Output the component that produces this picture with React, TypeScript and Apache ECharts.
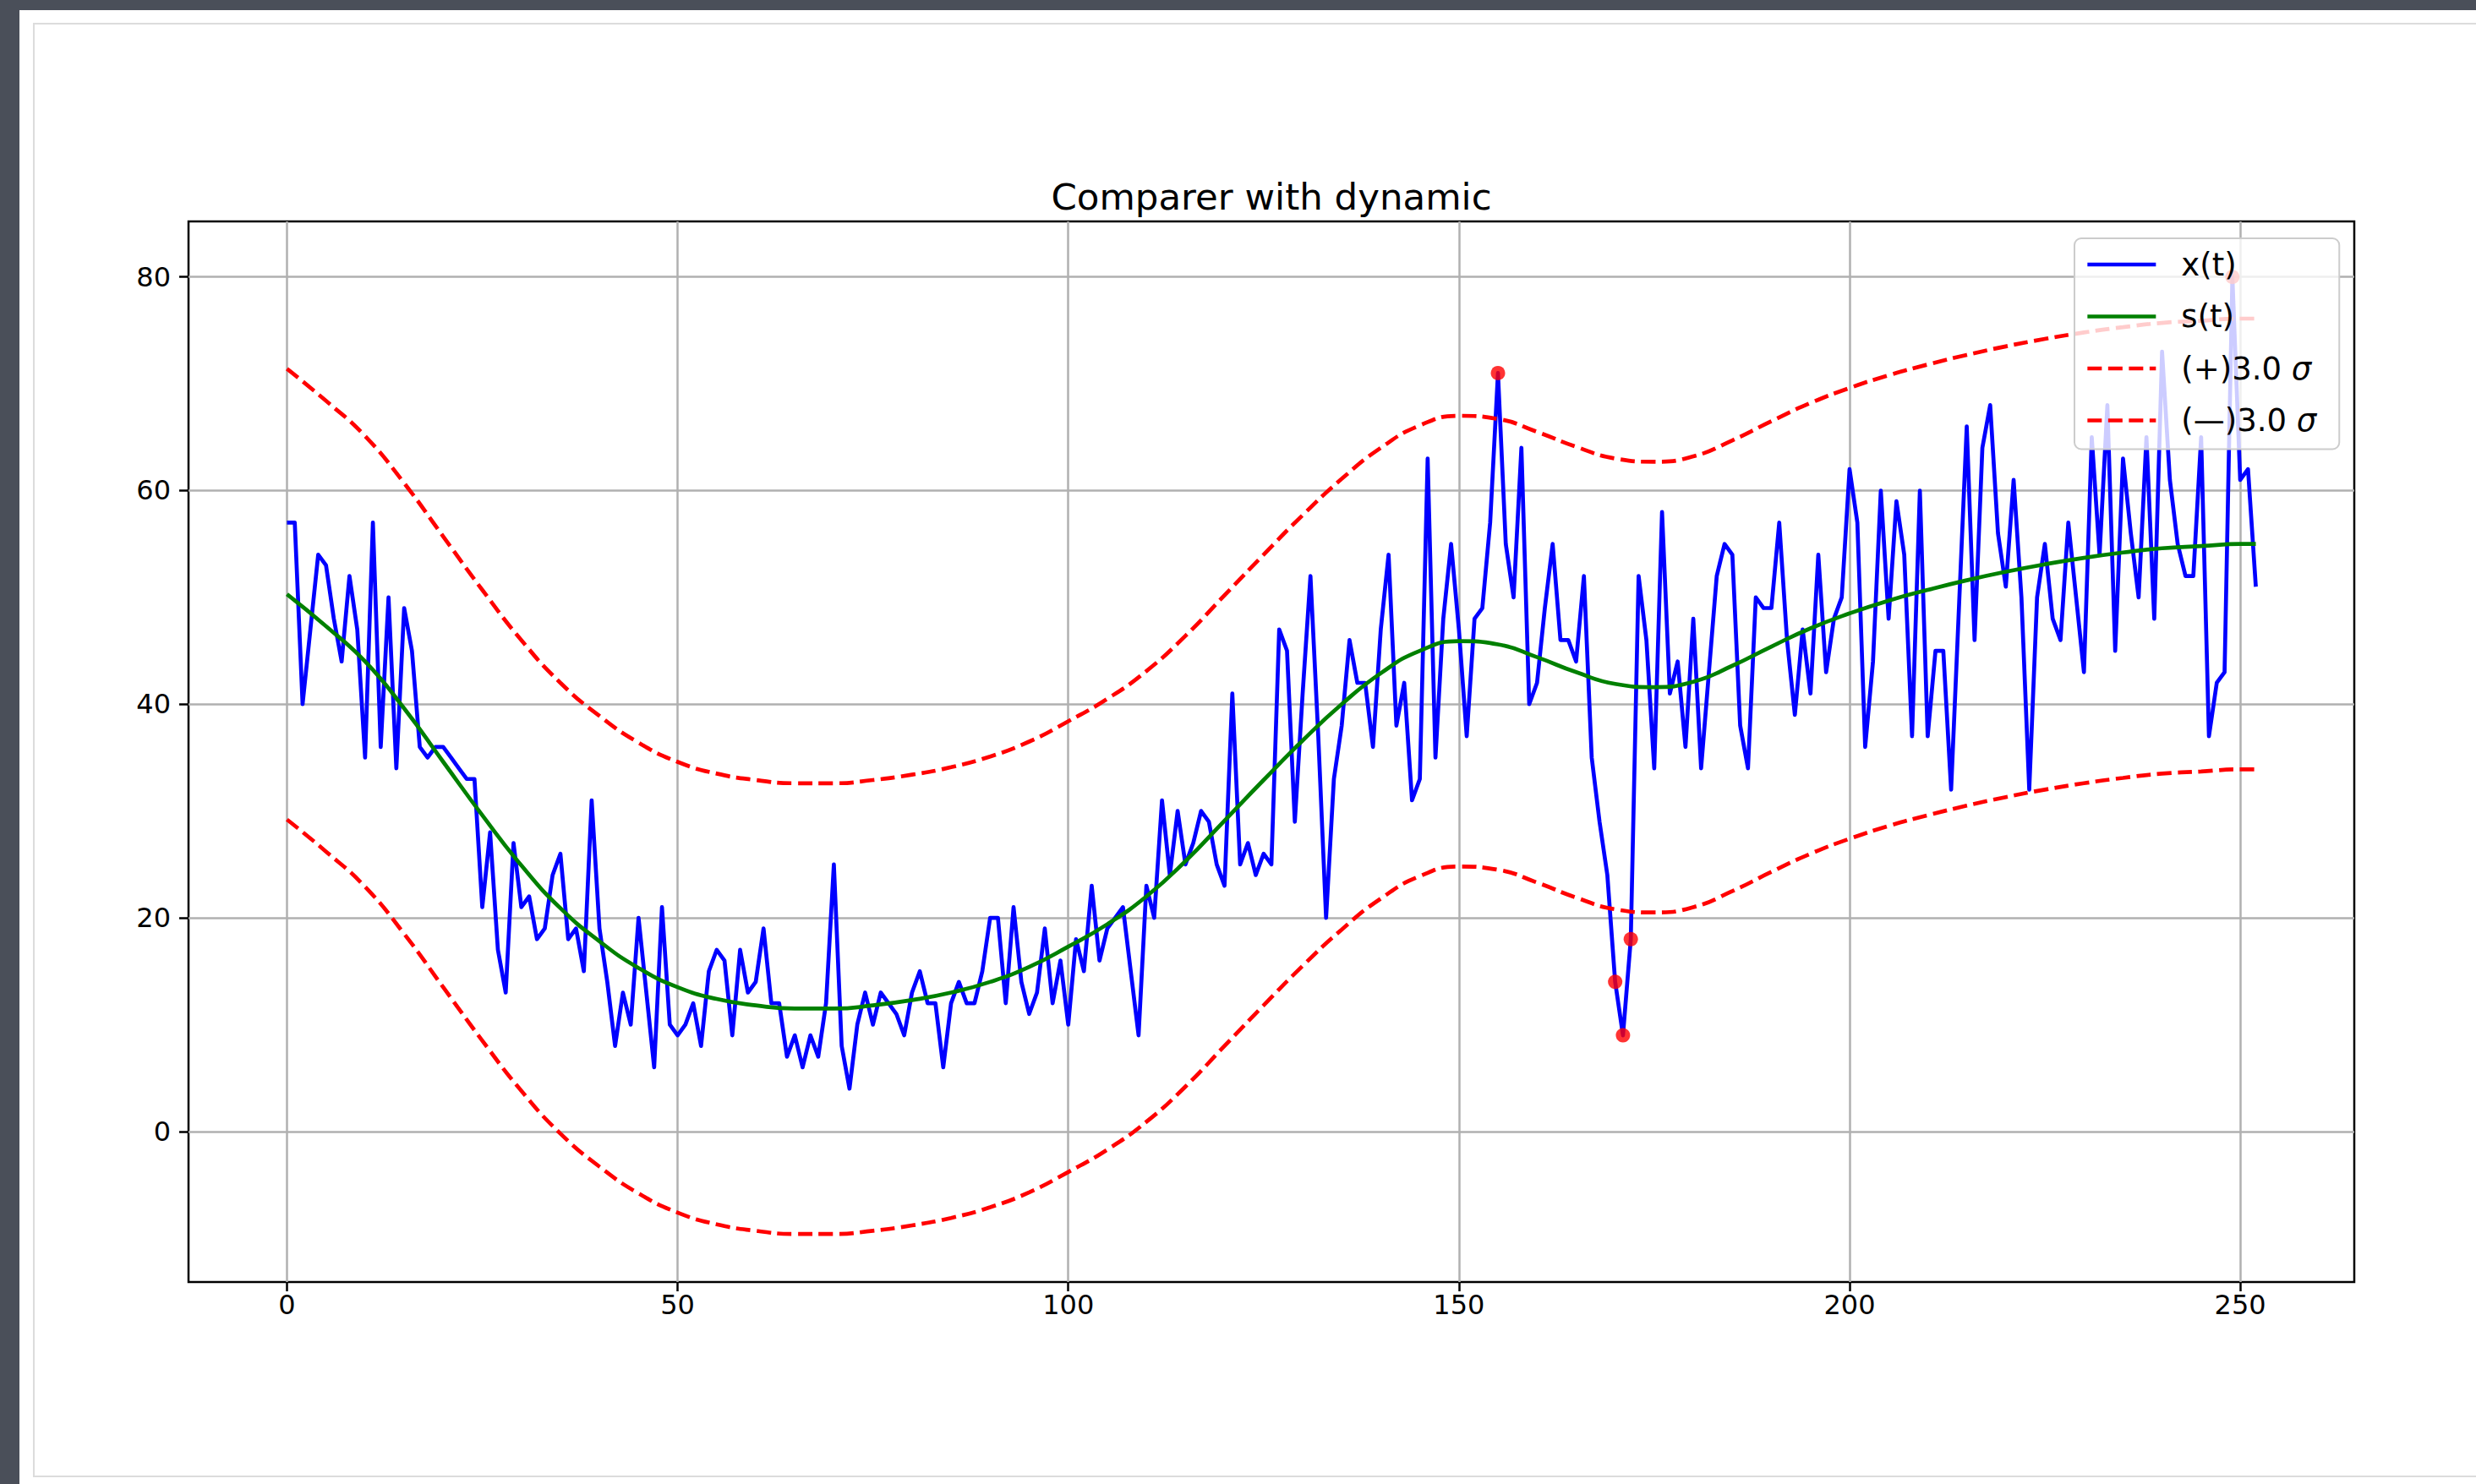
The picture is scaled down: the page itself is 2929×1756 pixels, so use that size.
import React, { useEffect, useRef } from 'react';
import * as echarts from 'echarts';

const FONT = '"DejaVu Sans", sans-serif';

// x(t) observed values, t = 0..252
const X_VALUES = [
  57, 57, 40, 47, 54, 53, 48, 44, 52, 47,
  35, 57, 36, 50, 34, 49, 45, 36, 35, 36,
  36, 35, 34, 33, 33, 21, 28, 17, 13, 27,
  21, 22, 18, 19, 24, 26, 18, 19, 15, 31,
  19, 14, 8, 13, 10, 20, 13, 6, 21, 10,
  9, 10, 12, 8, 15, 17, 16, 9, 17, 13,
  14, 19, 12, 12, 7, 9, 6, 9, 7, 12,
  25, 8, 4, 10, 13, 10, 13, 12, 11, 9,
  13, 15, 12, 12, 6, 12, 14, 12, 12, 15,
  20, 20, 12, 21, 14, 11, 13, 19, 12, 16,
  10, 18, 15, 23, 16, 19, 20, 21, 15, 9,
  23, 20, 31, 24, 30, 25, 27, 30, 29, 25,
  23, 41, 25, 27, 24, 26, 25, 47, 45, 29,
  41, 52, 37, 20, 33, 38, 46, 42, 42, 36,
  47, 54, 38, 42, 31, 33, 63, 35, 48, 55,
  47, 37, 48, 49, 57, 71, 55, 50, 64, 40,
  42, 49, 55, 46, 46, 44, 52, 35, 29, 24,
  14, 9, 18, 52, 46, 34, 58, 41, 44, 36,
  48, 34, 43, 52, 55, 54, 38, 34, 50, 49,
  49, 57, 46, 39, 47, 41, 54, 43, 48, 50,
  62, 57, 36, 44, 60, 48, 59, 54, 37, 60,
  37, 45, 45, 32, 49, 66, 46, 64, 68, 56,
  51, 61, 50, 32, 50, 55, 48, 46, 57, 50,
  43, 65, 54, 68, 45, 63, 56, 50, 65, 48,
  73, 61, 55, 52, 52, 65, 37, 42, 43, 80,
  61, 62, 51,
];

// sample positions for the smooth curves
const S_T = [
  0, 5, 10, 15, 20, 25, 30, 35, 40, 45,
  50, 55, 60, 65, 70, 75, 80, 85, 90, 95,
  100, 105, 110, 115, 120, 125, 130, 135, 140, 145,
  150, 155, 160, 165, 170, 175, 180, 185, 190, 195,
  200, 205, 210, 215, 220, 225, 230, 235, 240, 245,
  250, 252,
];

// s(t) smoothed values
const S_VALUES = [
  50.3, 47.3, 44.0, 39.6, 34.6, 29.6, 24.9, 20.9, 17.8, 15.3,
  13.5, 12.4, 11.8, 11.5, 11.5, 11.8, 12.3, 13.0, 14.0, 15.4,
  17.3, 19.4, 22.0, 25.3, 29.1, 32.9, 36.6, 40.0, 42.9, 45.0,
  45.9, 45.6, 44.4, 43.0, 41.9, 41.6, 42.1, 43.6, 45.4, 47.1,
  48.5, 49.7, 50.7, 51.6, 52.4, 53.1, 53.7, 54.2, 54.6, 54.8,
  55.0, 55.0,
];

// (+)3.0 sigma band
const UPPER_VALUES = [
  71.4, 68.4, 65.1, 60.7, 55.7, 50.7, 46.0, 42.0, 38.9, 36.4,
  34.6, 33.5, 32.9, 32.6, 32.6, 32.9, 33.4, 34.1, 35.1, 36.5,
  38.4, 40.5, 43.1, 46.4, 50.2, 54.0, 57.7, 61.1, 64.0, 66.1,
  67.0, 66.7, 65.5, 64.1, 63.0, 62.7, 63.2, 64.7, 66.5, 68.2,
  69.6, 70.8, 71.8, 72.7, 73.5, 74.2, 74.8, 75.3, 75.7, 75.9,
  76.1, 76.1,
];

// (—)3.0 sigma band
const LOWER_VALUES = [
  29.2, 26.2, 22.9, 18.5, 13.5, 8.5, 3.8, -0.2, -3.3, -5.8,
  -7.6, -8.7, -9.3, -9.6, -9.6, -9.3, -8.8, -8.1, -7.1, -5.7,
  -3.8, -1.7, 0.9, 4.2, 8.0, 11.8, 15.5, 18.9, 21.8, 23.9,
  24.8, 24.5, 23.3, 21.9, 20.8, 20.5, 21.0, 22.5, 24.3, 26.0,
  27.4, 28.6, 29.6, 30.5, 31.3, 32.0, 32.6, 33.1, 33.5, 33.7,
  33.9, 33.9,
];

// points flagged outside the band
const ANOMALY_T = [155, 170, 171, 172, 249];

const X_TICKS = [0, 50, 100, 150, 200, 250];
const Y_TICKS = [0, 20, 40, 60, 80];

const SERIES_NAMES = ['x(t)', 's(t)', '(+)3.0 σ', '(—)3.0 σ'];
const TITLE = 'Comparer with dynamic';

export default function App() {
  const ref = useRef<HTMLDivElement>(null);

  useEffect(() => {
    if (!ref.current) return;
    const chart = echarts.init(ref.current, undefined, { renderer: 'svg' });

    const xData = X_VALUES.map((v, i) => [i, v]);
    const sData = S_T.map((t, k) => [t, S_VALUES[k]]);
    const upData = S_T.map((t, k) => [t, UPPER_VALUES[k]]);
    const loData = S_T.map((t, k) => [t, LOWER_VALUES[k]]);
    const anData = ANOMALY_T.map((t) => [t, X_VALUES[t]]);

    const dash = [17, 7.5];

    const option: any = {
      animation: false,
      backgroundColor: 'transparent',
      textStyle: { fontFamily: FONT },
      grid: {
        left: 223,
        right: 144,
        top: 262,
        bottom: 239,
        show: true,
        borderColor: '#000000',
        borderWidth: 2.5,
        backgroundColor: 'transparent',
        containLabel: false,
        outerBoundsMode: 'none',
      },
      xAxis: {
        type: 'value',
        min: -12.6,
        max: 264.6,
        axisLine: { show: false, onZero: false },
        axisTick: {
          show: true,
          length: 11,
          lineStyle: { color: '#000000', width: 2.5 },
          customValues: X_TICKS,
        },
        axisLabel: {
          customValues: X_TICKS,
          fontSize: 32,
          color: '#000000',
          margin: 11,
          fontFamily: FONT,
        },
        splitLine: { show: false },
      },
      yAxis: {
        type: 'value',
        min: -14.1,
        max: 85.2,
        axisLine: { show: false, onZero: false },
        axisTick: {
          show: true,
          length: 11,
          lineStyle: { color: '#000000', width: 2.5 },
          customValues: Y_TICKS,
        },
        axisLabel: {
          customValues: Y_TICKS,
          fontSize: 32,
          color: '#000000',
          margin: 21,
          fontFamily: FONT,
        },
        splitLine: { show: false },
      },
      legend: {
        data: SERIES_NAMES,
        orient: 'vertical',
        left: 2454,
        top: 282,
        padding: [11, 27, 14, 13],
        itemWidth: 81,
        itemHeight: 14,
        itemGap: 21.5,
        backgroundColor: 'rgba(255,255,255,0.8)',
        borderColor: '#cccccc',
        borderWidth: 2,
        borderRadius: 8,
        selectedMode: false,
        itemStyle: { opacity: 0 },
        lineStyle: { width: 4.7 },
        formatter: (name: string) => name.replace('σ', '{i|σ}'),
        textStyle: {
          fontSize: 37,
          color: '#000000',
          fontFamily: FONT,
          lineHeight: 40,
          padding: [0, 0, 0, 25],
          rich: {
            i: { fontStyle: 'italic', fontSize: 37, fontFamily: FONT, lineHeight: 40, color: '#000000' },
          },
        },
      },
      graphic: [
        {
          type: 'text',
          x: 1504,
          y: 233,
          silent: true,
          style: {
            text: TITLE,
            fontSize: 43.5,
            fontFamily: FONT,
            fill: '#000000',
            align: 'center',
            verticalAlign: 'middle',
          },
        },
      ],
      series: [
        {
          type: 'line',
          name: SERIES_NAMES[0],
          data: xData,
          symbol: 'none',
          showSymbol: false,
          z: 2,
          lineStyle: { color: '#0000ff', width: 4.7, join: 'round' },
          itemStyle: { color: '#0000ff' },
          emphasis: { disabled: true },
          markLine: {
            silent: true,
            z: 1,
            symbol: ['none', 'none'],
            label: { show: false },
            emphasis: { disabled: true },
            lineStyle: { color: '#b0b0b0', width: 2.5, type: 'solid' },
            data: [
              ...X_TICKS.map((v) => ({ xAxis: v })),
              ...Y_TICKS.map((v) => ({ yAxis: v })),
            ],
          },
        },
        {
          type: 'line',
          name: SERIES_NAMES[1],
          data: sData,
          smooth: true,
          symbol: 'none',
          showSymbol: false,
          z: 2,
          lineStyle: { color: '#008000', width: 4.7 },
          itemStyle: { color: '#008000' },
          emphasis: { disabled: true },
        },
        {
          type: 'line',
          name: SERIES_NAMES[2],
          data: upData,
          smooth: true,
          symbol: 'none',
          showSymbol: false,
          z: 2,
          lineStyle: { color: '#ff0000', width: 4.7, type: dash },
          itemStyle: { color: '#ff0000' },
          emphasis: { disabled: true },
        },
        {
          type: 'line',
          name: SERIES_NAMES[3],
          data: loData,
          smooth: true,
          symbol: 'none',
          showSymbol: false,
          z: 2,
          lineStyle: { color: '#ff0000', width: 4.7, type: dash },
          itemStyle: { color: '#ff0000' },
          emphasis: { disabled: true },
        },
        {
          type: 'scatter',
          name: 'anomaly',
          data: anData,
          symbol: 'circle',
          symbolSize: 17,
          z: 3,
          itemStyle: { color: '#ff0000' },
          emphasis: { disabled: true },
        },
      ],
    };

    chart.setOption(option);
    return () => {
      chart.dispose();
    };
  }, []);

  return (
    <div
      style={{
        position: 'fixed',
        left: 0,
        top: 0,
        width: 2929,
        height: 1756,
        background: '#4a4f59',
        overflow: 'hidden',
      }}
    >
      <div
        style={{
          position: 'absolute',
          left: 23,
          top: 12,
          width: 2929,
          height: 1756,
          background: '#ffffff',
        }}
      />
      <div
        style={{
          position: 'absolute',
          left: 39,
          top: 27,
          width: 2960,
          height: 1721,
          border: '2px solid #dcdcdc',
          boxSizing: 'border-box',
        }}
      />
      <div
        ref={ref}
        style={{ position: 'absolute', left: 0, top: 0, width: 2929, height: 1756 }}
      />
    </div>
  );
}
